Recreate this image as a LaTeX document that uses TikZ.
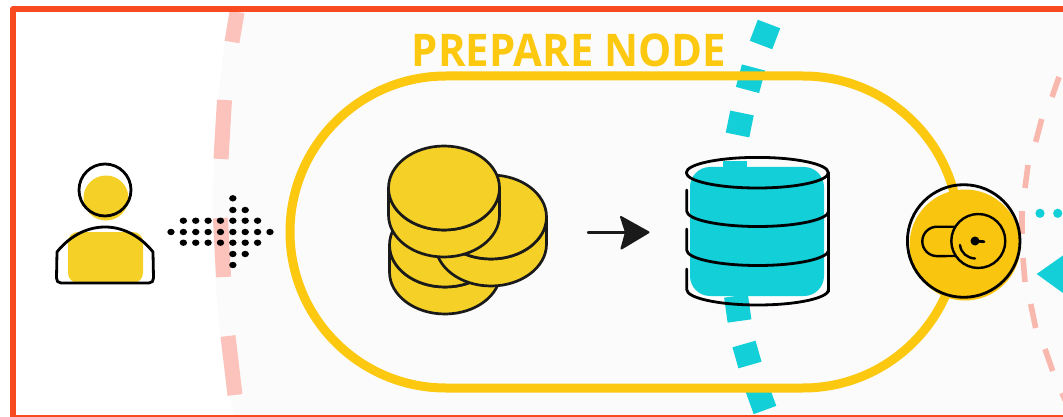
\documentclass[tikz,border=0pt]{standalone}
\usepackage{fontspec}
\setmainfont{Open Sans}
\newfontfamily\titlefont[FakeStretch=0.93]{Open Sans}
\definecolor{frameC}{HTML}{F84A20}
\definecolor{softbg}{HTML}{FBFBFB}
\definecolor{pinkC}{HTML}{FBC3BB}
\definecolor{pinkR}{HTML}{F9B8AD}
\definecolor{tealC}{HTML}{12CFD8}
\definecolor{goldC}{HTML}{FCC810}
\definecolor{lockC}{HTML}{FAC50F}
\definecolor{coinC}{HTML}{F5D027}
\definecolor{inkC}{HTML}{1A1A1A}
\tikzset{
  pinkL/.style={draw=pinkC,line width=15pt},
  pinkS/.style={draw=pinkR,line width=5.6pt},
  tealdash/.style={draw=tealC,line width=24pt},
  coinline/.style={draw=inkC,line width=2.7pt,fill=coinC,line join=round},
  inkline/.style={draw=black,line width=2.8pt,line cap=round,line join=round},
  thinink/.style={draw=black,line width=2.4pt,line cap=round,line join=round},
  dotC/.style={fill=black,draw=none},
}
\newcommand{\coinshape}[2]{%
  \path[coinline] (#1,#2) ++(-55.5,0) -- ++(0,27) arc[start angle=180,end angle=0,x radius=55.5pt,y radius=42pt] -- ++(0,-27) arc[start angle=0,end angle=180,x radius=55.5pt,y radius=42pt] -- cycle;
  \path[coinline] (#1,#2) circle[x radius=55.5pt,y radius=42pt];
}
\begin{document}
\begin{tikzpicture}[x=1pt,y=1pt,yscale=-1]
\useasboundingbox (0,0) rectangle (1063,417);
\fill[white] (0,0) rectangle (1063,417);
\begin{scope}
\clip (0,0) rectangle (1063,417);
% soft background
\begin{scope}
\clip (13,9) rectangle (1063,417);
\fill[softbg] (1294,205) circle[radius=1081pt];
\end{scope}
% left pink dashes
\draw[pinkL] (237,12) -- (232,42);
\draw[pinkL] (224.5,100) -- (221,159);
\draw[pinkL] (220.5,218) -- (223.5,277);
\draw[pinkL] (228,336) -- (235,395);
% right pink dashes
\draw[pinkS] (1059,77) -- (1052,97);
\draw[pinkS] (1041.7,119) -- (1035.7,142);
\draw[pinkS] (1028,165) -- (1025,188);
\draw[pinkS] (1022,211) -- (1022,234);
\draw[pinkS] (1023,258) -- (1025,282);
\draw[pinkS] (1030.7,304) -- (1035.7,328);
\draw[pinkS] (1045,349) -- (1052.7,371);
\draw[pinkS] (1062,393) -- (1066,402);
% database white body
\fill[white] (686.7,172.7) -- (686.7,289.5) arc[start angle=180,end angle=0,x radius=71pt,y radius=15.5pt] -- (828.3,172.7) arc[start angle=0,end angle=180,x radius=71pt,y radius=15.3pt] -- cycle;
% teal dashes
\draw[tealdash] (769,24) -- (761,45);
\draw[tealdash] (753.5,67.5) -- (747.5,90);
\draw[tealdash] (742,113) -- (737.5,135);
\draw[tealdash] (734.5,161) -- (734.5,190);
\draw[tealdash] (736,296) -- (739.5,321);
\draw[tealdash] (744,344) -- (750,365);
\draw[tealdash] (757,388) -- (765,410);
% stadium
\draw[goldC,line width=9pt,rounded corners=156pt] (290,76) rectangle (959,388);
\node[font=\titlefont\fontsize{45}{45}\selectfont\bfseries,text=goldC,anchor=base,inner sep=0pt] (title) at (569,67) {PREPARE NODE};
% person
\fill[coinC] (106,198) circle[radius=22.5pt];
\fill[coinC,rounded corners=10pt] (68,232) rectangle (143,283);
\draw[inkline] (105,190) circle[radius=26pt];
\draw[inkline] (105,227) .. controls (125,227) and (142,238) .. (153,252) -- (153.5,278) .. controls (153.5,281) and (152,283) .. (149,283) -- (61,283) .. controls (58,283) and (56.5,281) .. (56.5,278) -- (57,252) .. controls (68,238) and (85,227) .. (105,227) -- cycle;
% dot arrow
\foreach \yy/\list in {198.3/{6},210/{6,7},220.7/{2,3,4,5,6,7,8},232/{1,2,3,4,5,6,7,8,9},242.7/{2,3,4,5,6,7,8},254/{6,7},265/{6}}{
  \foreach \k in \list {
    \fill[dotC] ({171+(\k-1)*12.37},\yy) circle[x radius=3.7pt,y radius=3.2pt];
  }
}
% coins
\coinshape{445}{245}
\coinshape{491}{217}
\coinshape{444}{188}
% connector arrow
\coordinate (arrowA) at (588,232.5);
\coordinate (arrowB) at (628,232.5);
\draw[inkC,line width=2.4pt,line cap=round] (arrowA) -- (arrowB);
\fill[inkC,draw=inkC,line width=2pt,line join=round] (621,217) -- (648.5,232.3) -- (621.5,248.5) -- (626,232.3) -- cycle;
% database
\fill[tealC,rounded corners=20pt] (690,167) rectangle (824,296);
\draw[inkline] (757.3,172.7) circle[x radius=71pt,y radius=15.3pt];
\draw[inkline] (828.3,172.7) -- (828.3,291.7);
\draw[inkline] (686.7,190) -- (686.7,211) arc[start angle=180,end angle=0,x radius=71pt,y radius=15.5pt];
\draw[inkline] (686.7,229) -- (686.7,250) arc[start angle=180,end angle=0,x radius=71pt,y radius=15.5pt];
\draw[inkline] (686.7,269) -- (686.7,289.5) arc[start angle=180,end angle=0,x radius=71pt,y radius=15.5pt];
% padlock
\fill[lockC] (965,245) circle[radius=55.5pt];
\draw[inkline] (963.7,241) circle[radius=56.3pt];
\draw[thinink] (955,226.7) -- (937,226.7) arc[start angle=270,end angle=90,radius=14.7pt] -- (955,256);
\draw[thinink] (978.3,241) circle[radius=27pt];
\fill[black] (975,241) circle[radius=4.5pt];
\draw[black,line width=2.8pt,line cap=round] (975,241) -- (984,241.7);
\draw[thinink] (960,245) .. controls (961,253) and (967,258) .. (975,258.5);
% right teal marks
\fill[tealC] (1040,213.3) circle[radius=4.6pt];
\fill[tealC] (1057.7,213.3) circle[radius=4.6pt];
\fill[tealC] (1063,255.5) -- (1036.7,274) -- (1063,293) -- cycle;
% frame
\draw[frameC,line width=6pt,line join=round] (1070,9) -- (13,9) -- (13,417.5) -- (1070,417.5);
\end{scope}
\end{tikzpicture}
\end{document}
